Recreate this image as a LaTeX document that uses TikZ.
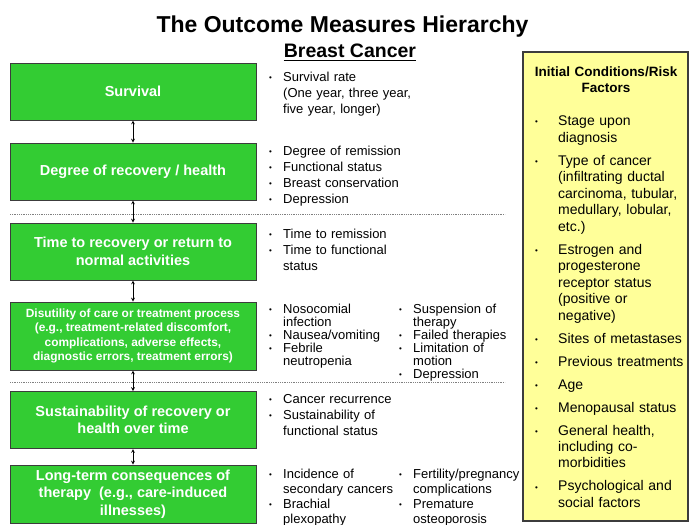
\documentclass[tikz,border=0pt]{standalone}
\usepackage{fontspec}
\setmainfont{Liberation Sans}

\definecolor{stagegreen}{RGB}{51,204,51}
\definecolor{riskyellow}{RGB}{255,255,153}
\definecolor{edgegray}{RGB}{60,60,60}

% bullet item with hanging indent (\\ stays inside the item)
\newlength{\bulind}
\newcommand{\bitem}[1]{\hangindent=\bulind\hangafter=1%
  \makebox[\bulind][l]{\raisebox{0.8pt}{\fontsize{8}{8}\selectfont\textbullet}}%
  {\let\\\newline #1}\par}

\begin{document}
\begin{tikzpicture}[x=1pt, y=-1pt,
  stage/.style={draw=edgegray, line width=1pt, fill=stagegreen, text=white,
    font=\bfseries\fontsize{14.5}{17.5}\selectfont, minimum width=246pt,
    inner sep=2pt, align=center},
  link/.style={<->, >=stealth, line width=0.7pt},
  sep/.style={densely dotted, gray, line width=0.8pt},
  bulletlist/.style={anchor=base west, inner sep=0pt, text width=#1, align=left,
    font=\fontsize{13}{16}\selectfont},
  bulindent/.code={\setlength{\bulind}{#1}}]
  \useasboundingbox (0,0) rectangle (689,525);
  \fill[white] (0,0) rectangle (689,525);

  % Heading
  \node[font=\bfseries\fontsize{23}{27}\selectfont, anchor=base] (title) at (342.5,32) {The Outcome Measures Hierarchy};
  \node[font=\bfseries\fontsize{19.5}{23}\selectfont, anchor=base, inner sep=0pt] (subtitle) at (350,57) {Breast Cancer};
  \draw[line width=1.3pt] ([yshift=-3.5pt]subtitle.base west) -- ([yshift=-3.5pt]subtitle.base east);

  % Separators
  \draw[sep] (10,214) -- (505,214);
  \draw[sep] (10,382) -- (505,382);

  % Outcome stages
  \node[stage, minimum height=57] (surv) at (133,91.5) {Survival};
  \node[stage, minimum height=57] (recov) at (133,171.5) {Degree of recovery / health};
  \node[stage, minimum height=57] (time) at (133,251.5) {Time to recovery or return to\\normal activities};
  \node[stage, minimum height=68, font=\bfseries\fontsize{11.9}{14.3}\selectfont] (disut) at (133,336)
    {Disutility of care or treatment process\\(e.g., treatment-related discomfort,\\complications, adverse effects,\\diagnostic errors, treatment errors)};
  \node[stage, minimum height=57] (sust) at (133,420) {Sustainability of recovery or\\health over time};
  \node[stage, minimum height=58] (longterm) at (133,494) {Long-term consequences of\\therapy~ (e.g., care-induced\\illnesses)};

  \foreach \a/\b in {surv/recov, recov/time, time/disut, disut/sust, sust/longterm}
    \draw[link] (\a.south) -- (\b.north);

  % Measures
  \node[bulletlist=160pt, bulindent=14pt] (survlist) at (269,81)
    {\bitem{Survival rate\\(One year, three year,\\five year, longer)}};
  \node[bulletlist=160pt, bulindent=14pt] (recovlist) at (269,155)
    {\bitem{Degree of remission}\bitem{Functional status}\bitem{Breast conservation}\bitem{Depression}};
  \node[bulletlist=160pt, bulindent=14pt] (timelist) at (269,238)
    {\bitem{Time to remission}\bitem{Time to functional\\status}};
  \node[bulletlist=140pt, bulindent=14pt, font=\fontsize{13}{13}\selectfont] (disutlist) at (269,313)
    {\bitem{Nosocomial\\infection}\bitem{Nausea/vomiting}\bitem{Febrile\\neutropenia}};
  \node[bulletlist=140pt, bulindent=14pt, font=\fontsize{13}{13}\selectfont] (disutlistb) at (399,313)
    {\bitem{Suspension of\\therapy}\bitem{Failed therapies}\bitem{Limitation of\\motion}\bitem{Depression}};
  \node[bulletlist=160pt, bulindent=14pt] (sustlist) at (269,403)
    {\bitem{Cancer recurrence}\bitem{Sustainability of\\functional status}};
  \node[bulletlist=140pt, bulindent=14pt, font=\fontsize{13}{15}\selectfont] (longlist) at (269,478)
    {\bitem{Incidence of\\secondary cancers}\bitem{Brachial\\plexopathy}};
  \node[bulletlist=140pt, bulindent=14pt, font=\fontsize{13}{15}\selectfont] (longlistb) at (399,478)
    {\bitem{Fertility/pregnancy\\complications}\bitem{Premature\\osteoporosis}};

  % Initial conditions / risk factors
  \node[draw=edgegray, line width=1.2pt, fill=riskyellow, minimum width=165pt, minimum height=469pt] (risk) at (605.5,286.5) {};
  \node[font=\bfseries\fontsize{13.5}{16}\selectfont, text width=164pt, align=center, anchor=base, inner sep=0pt] (riskhead) at (606,76.5)
    {Initial Conditions/Risk\\Factors};
  \node[bulletlist=170pt, bulindent=23pt, font=\fontsize{14}{16.5}\selectfont,
    execute at begin node={\setlength{\parskip}{6.5pt}}] (risklist) at (535,125.5)
    {\bitem{Stage upon\\diagnosis}
     \bitem{Type of cancer\\(infiltrating ductal\\carcinoma, tubular,\\medullary, lobular,\\etc.)}
     \bitem{Estrogen and\\progesterone\\receptor status\\(positive or\\negative)}
     \bitem{Sites of metastases}
     \bitem{Previous treatments}
     \bitem{Age}
     \bitem{Menopausal status}
     \bitem{General health,\\including co-\\morbidities}
     \bitem{Psychological and\\social factors}};
\end{tikzpicture}
\end{document}
